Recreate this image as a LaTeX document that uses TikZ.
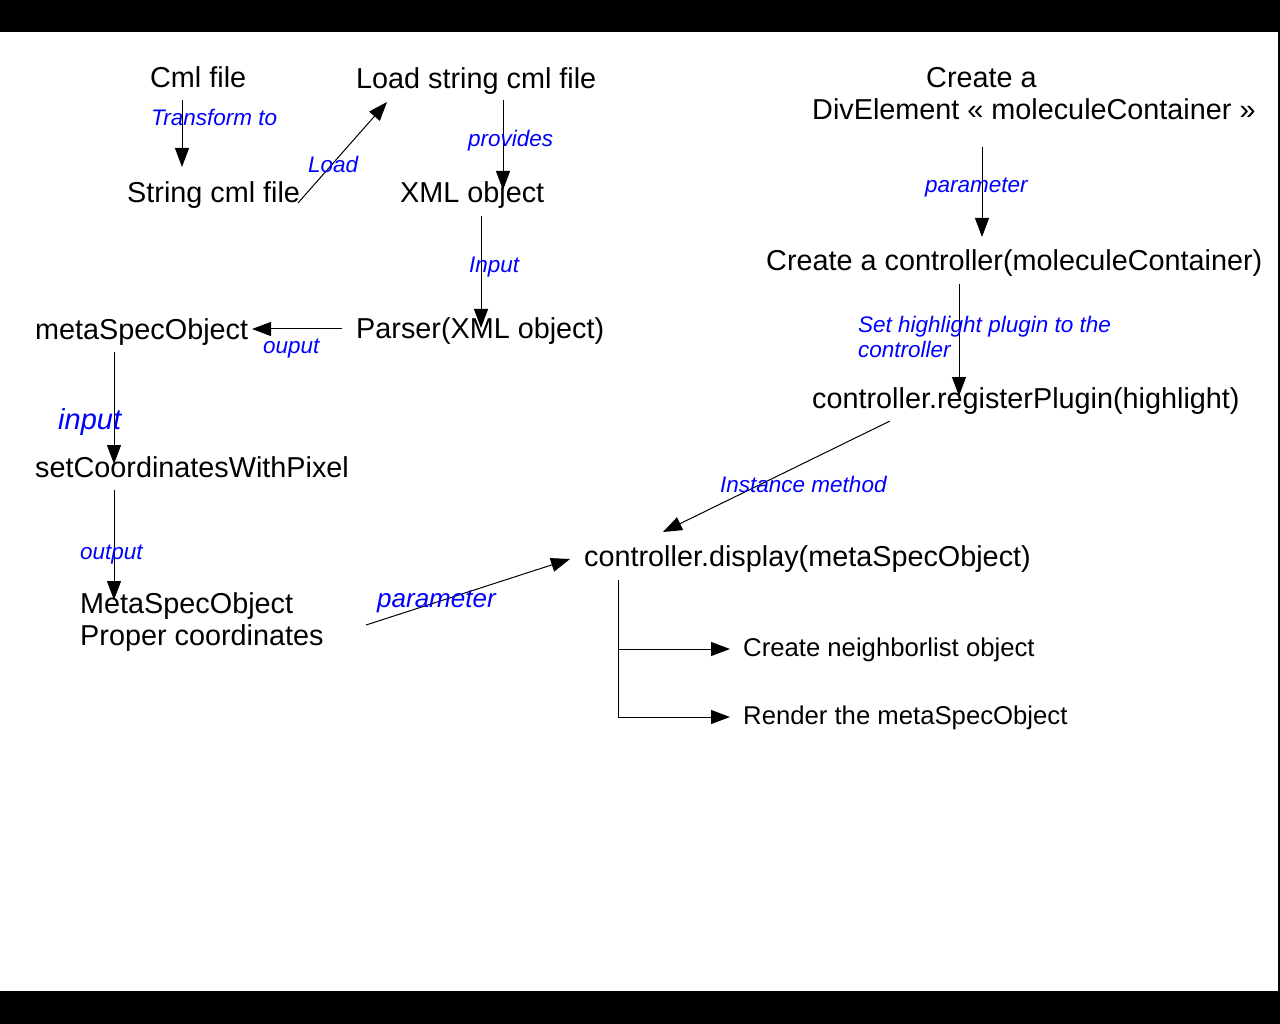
\documentclass[tikz,border=0pt]{standalone}
\usepackage{fontspec}
\setmainfont{Liberation Sans}
\usetikzlibrary{arrows.meta}
\definecolor{labelblue}{RGB}{0,0,255}
\begin{document}
\begin{tikzpicture}[x=1pt,y=-1pt,
  txt/.style={anchor=base west,inner sep=0pt,align=left,font=\fontsize{28.8}{32}\selectfont},
  smalltxt/.style={anchor=base west,inner sep=0pt,font=\fontsize{25.7}{30}\selectfont},
  lbl/.style={anchor=base west,inner sep=0pt,align=left,text=labelblue,font=\fontsize{22.5}{24.5}\selectfont\itshape},
  arr/.style={line width=1pt,-{Triangle[length=19pt,width=14pt]}},
  plain/.style={line width=1pt}]
\useasboundingbox (0,0) rectangle (1280,1024);
\fill[black] (0,0) rectangle (1280,32);
\fill[black] (0,991) rectangle (1280,1024);
\fill[black] (1278,32) rectangle (1280,991);

% nodes (base anchor of a two-line node = baseline of its last line)
\node[txt] (cml) at (150,88) {Cml file};
\node[txt] (load) at (356,89) {Load string cml file};
\node[txt] (str) at (127,203) {String cml file};
\node[txt] (xml) at (400,203) {XML object};
\node[txt] (div) at (812,120) {\hspace*{114pt}Create a\\DivElement « moleculeContainer »};
\node[txt] (ctrl) at (766,271) {Create a controller(moleculeContainer)};
\node[txt] (meta) at (35,340) {metaSpecObject};
\node[txt] (parser) at (356,339) {Parser(XML object)};
\node[txt] (reg) at (812,408) {controller.registerPlugin(highlight)};
\node[txt] (setc) at (35,477) {setCoordinatesWithPixel};
\node[txt] (disp) at (584,566) {controller.display(metaSpecObject)};
\node[txt] (metapc) at (80,645) {MetaSpecObject\\Proper coordinates};
\node[smalltxt] (neigh) at (743,656) {Create neighborlist object};
\node[smalltxt] (render) at (743,724) {Render the metaSpecObject};

% connectors
\draw[arr] ([shift={(32,12)}]cml.base west) -- ([shift={(55,-36)}]str.base west);
\draw[arr] ([shift={(171,0)}]str.base west) -- ([shift={(31,13)}]load.base west);
\draw[arr] ([shift={(147,11)}]load.base west) -- ([shift={(103,-13)}]xml.base west);
\draw[arr] ([shift={(81,13)}]xml.base west) -- ([shift={(125,-11)}]parser.base west);
\draw[arr] ([shift={(-14,-10)}]parser.base west) -- ([shift={(217,-11)}]meta.base west);
\draw[arr] ([shift={(79,12)}]meta.base west) -- ([shift={(79,-13)}]setc.base west);
\draw[arr] ([shift={(79,13)}]setc.base west) -- ([shift={(34,-45)}]metapc.base west);
\draw[arr] ([shift={(286,-20)}]metapc.base west) -- ([shift={(-14,-7)}]disp.base west);
\draw[arr] ([shift={(170,27)}]div.base west) -- ([shift={(216,-34)}]ctrl.base west);
\draw[arr] ([shift={(193,13)}]ctrl.base west) -- ([shift={(147,-12)}]reg.base west);
\draw[arr] ([shift={(78,13)}]reg.base west) -- ([shift={(79,-34)}]disp.base west);
\draw[arr] ([shift={(34,14)}]disp.base west) |- ([shift={(-13,-7)}]neigh.base west);
\draw[arr] ([shift={(34,14)}]disp.base west) |- ([shift={(-13,-7)}]render.base west);

% labels
\node[lbl] (l1) at (151,126) {Transform to};
\node[lbl] (l2) at (308,173) {Load};
\node[lbl] (l3) at (468,147) {provides};
\node[lbl] (l4) at (469,273) {Input};
\node[lbl] (l5) at (263,353) {ouput};
\node[lbl,font=\fontsize{29}{32}\selectfont\itshape] (l6) at (58,429) {input};
\node[lbl] (l7) at (80,559) {output};
\node[lbl,font=\fontsize{26}{30}\selectfont\itshape] (l8) at (377,607) {parameter};
\node[lbl] (l9) at (925,193) {parameter};
\node[lbl] (l10) at (858,357) {Set highlight plugin to the\\controller};
\node[lbl] (l11) at (720,492) {Instance method};
\end{tikzpicture}
\end{document}
